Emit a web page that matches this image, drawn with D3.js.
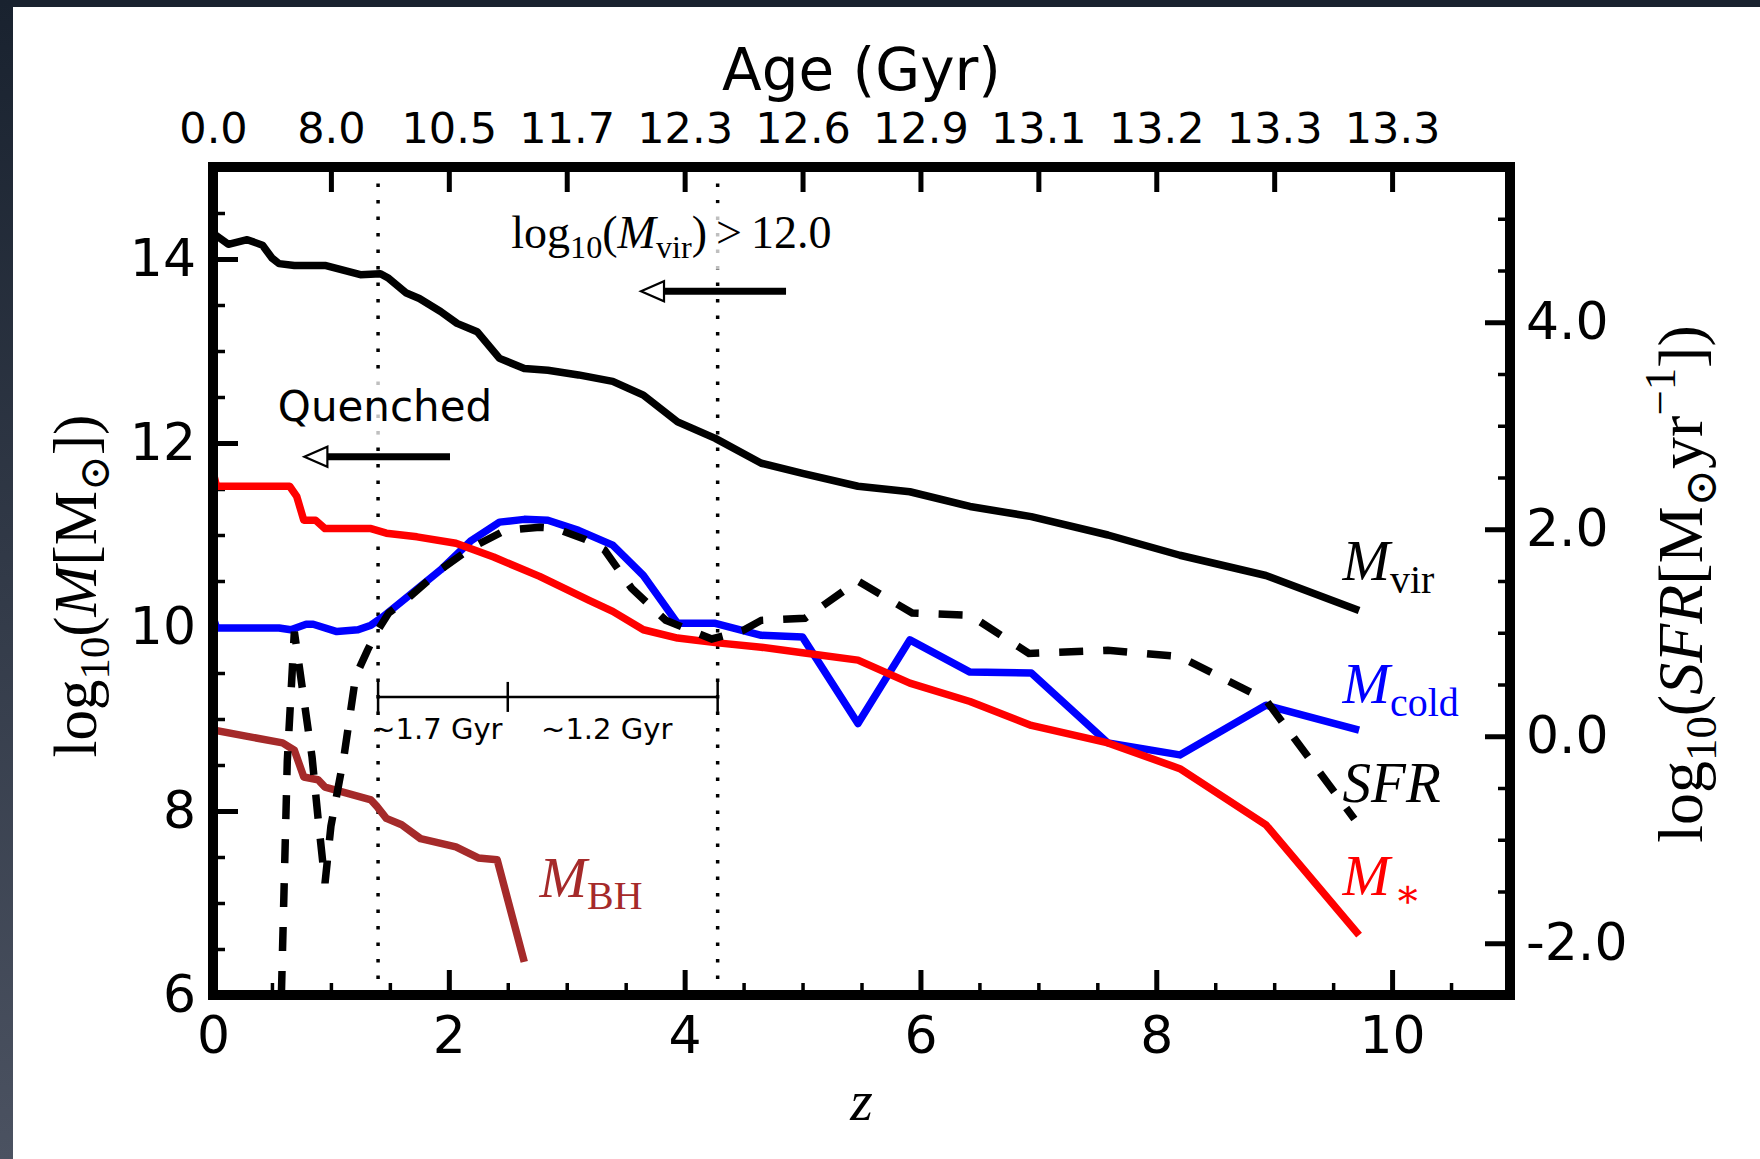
<!DOCTYPE html>
<html>
<head>
<meta charset="utf-8">
<script src="https://cdn.jsdelivr.net/npm/d3@7"></script>
<style>
  html, body { margin: 0; padding: 0; background: #fff; }
  svg { display: block; }
</style>
</head>
<body>
<div id="chart"></div>
<script>
// ---- data ----
const zMajor = [0, 2, 4, 6, 8, 10];
const ageTicks = [0, 1, 2, 3, 4, 5, 6, 7, 8, 9, 10];
const ageLabels = ["0.0", "8.0", "10.5", "11.7", "12.3", "12.6", "12.9", "13.1", "13.2", "13.3", "13.3"];
const massTicks = [6, 8, 10, 12, 14];
const sfrTicks = [-2, 0, 2, 4];

// [z, log10 value]
const mvir = [[0.00,14.28],[0.13,14.16],[0.29,14.21],[0.42,14.15],[0.50,14.01],[0.56,13.95],[0.69,13.93],[0.95,13.93],[1.25,13.83],[1.42,13.84],[1.49,13.79],[1.64,13.63],[1.75,13.57],[1.93,13.43],[2.07,13.30],[2.24,13.21],[2.43,12.92],[2.64,12.81],[2.84,12.79],[3.10,12.74],[3.39,12.67],[3.65,12.52],[3.94,12.23],[4.26,12.05],[4.65,11.78],[5.00,11.67],[5.47,11.53],[5.91,11.47],[6.42,11.31],[6.94,11.20],[7.59,11.00],[8.20,10.78],[8.93,10.56],[9.72,10.18]];
const mstar = [[0.00,11.69],[0.03,11.53],[0.65,11.53],[0.71,11.42],[0.77,11.16],[0.87,11.16],[0.95,11.07],[1.34,11.07],[1.47,11.02],[1.73,10.98],[2.06,10.91],[2.38,10.76],[2.77,10.55],[3.19,10.29],[3.39,10.17],[3.65,9.97],[3.94,9.88],[4.26,9.83],[4.65,9.78],[5.00,9.72],[5.47,9.64],[5.91,9.39],[6.42,9.19],[6.94,8.93],[7.59,8.74],[8.20,8.46],[8.93,7.85],[9.72,6.65]];
const mcold = [[0.00,10.11],[0.03,9.99],[0.56,9.99],[0.66,9.97],[0.79,10.03],[0.85,10.03],[1.05,9.95],[1.23,9.97],[1.34,10.02],[1.44,10.11],[1.67,10.35],[1.93,10.62],[2.19,10.94],[2.43,11.14],[2.64,11.17],[2.84,11.16],[3.10,11.05],[3.39,10.89],[3.65,10.56],[3.94,10.04],[4.26,10.04],[4.65,9.91],[5.00,9.89],[5.47,8.95],[5.91,9.86],[6.42,9.51],[6.94,9.50],[7.59,8.74],[8.20,8.61],[8.93,9.15],[9.72,8.88]];
const mbh = [[0.00,8.88],[0.59,8.74],[0.69,8.66],[0.77,8.37],[0.89,8.34],[0.95,8.26],[1.34,8.12],[1.39,8.05],[1.47,7.92],[1.60,7.85],[1.76,7.70],[2.06,7.61],[2.25,7.49],[2.41,7.47],[2.64,6.36]];
// right axis: log10 SFR
const sfr = [[0.58,-2.5],[0.63,-0.24],[0.69,1.01],[0.84,-0.20],[0.89,-0.78],[0.95,-1.42],[1.00,-0.87],[1.11,-0.20],[1.21,0.58],[1.31,0.83],[1.39,1.01],[1.49,1.19],[1.67,1.35],[1.93,1.61],[2.19,1.82],[2.48,1.99],[2.77,2.02],[2.90,2.01],[3.16,1.90],[3.32,1.80],[3.55,1.43],[3.84,1.12],[4.23,0.94],[4.49,1.02],[4.65,1.12],[5.02,1.14],[5.47,1.50],[5.93,1.19],[6.42,1.17],[6.92,0.80],[7.59,0.83],[8.20,0.77],[8.93,0.35],[9.68,-0.80]];

const markerZ = [1.40, 4.28];           // dotted lines
const bracketZ = [1.40, 2.50, 4.28];    // time bracket
const bracketLevel = 9.24;
const bracketLabels = ["~1.7 Gyr", "~1.2 Gyr"];

// ---- layout ----
const W = 1760, H = 1159;
const L = 213, R = 1510, T = 167, B = 995;
const serif = "'Liberation Serif', 'DejaVu Serif', serif";
const sans = "'DejaVu Sans', sans-serif";

const svg = d3.select("#chart").append("svg")
  .attr("width", W).attr("height", H);

// page border like the screenshot
const grad = svg.append("defs").append("linearGradient")
  .attr("id", "edge").attr("x1", 0).attr("y1", 0).attr("x2", 0).attr("y2", 1);
grad.append("stop").attr("offset", "0%").attr("stop-color", "#19222f");
grad.append("stop").attr("offset", "100%").attr("stop-color", "#4b5261");
svg.append("rect").attr("width", W).attr("height", H).attr("fill", "#fff");
svg.append("rect").attr("width", W).attr("height", 7).attr("fill", "#19222f");
svg.append("rect").attr("width", 13).attr("height", H).attr("fill", "url(#edge)");

svg.select("defs").append("clipPath").attr("id", "plot")
  .append("rect").attr("x", L).attr("y", T).attr("width", R - L).attr("height", B - T);

const x = d3.scaleLinear().domain([0, 11]).range([L, R]);
const yL = d3.scaleLinear().domain([6, 15]).range([B, T]);
const yR = d3.scaleLinear().domain([-2.5, 5.5]).range([B, T]);

function styleAxis(g, size, width) {
  g.select(".domain").remove();
  g.attr("font-family", sans).attr("font-size", size);
  g.selectAll(".tick line").attr("stroke", "#000").attr("stroke-width", width);
  g.selectAll(".tick text").attr("fill", "#000");
}

const minor = (lo, hi, skip) => d3.range(lo, hi + 0.001, 0.5).filter(v => !skip.includes(v));

// bottom
svg.append("g").attr("transform", `translate(0,${B})`)
  .call(d3.axisBottom(x).tickValues(minor(0, 11, zMajor)).tickSize(-12).tickFormat(""))
  .call(g => styleAxis(g, 52, 3.5));
svg.append("g").attr("transform", `translate(0,${B})`)
  .call(d3.axisBottom(x).tickValues(zMajor).tickSize(-25).tickPadding(21).tickFormat(d3.format("d")))
  .call(g => styleAxis(g, 52, 5));

// top (age)
svg.append("g").attr("transform", `translate(0,${T})`)
  .call(d3.axisTop(x).tickValues(ageTicks).tickSize(-25).tickPadding(24).tickFormat((d, i) => ageLabels[i]))
  .call(g => styleAxis(g, 43, 5));

// left
svg.append("g").attr("transform", `translate(${L},0)`)
  .call(d3.axisLeft(yL).tickValues(minor(6, 15, massTicks)).tickSize(-12).tickFormat(""))
  .call(g => styleAxis(g, 52, 3.5));
svg.append("g").attr("transform", `translate(${L},0)`)
  .call(d3.axisLeft(yL).tickValues(massTicks).tickSize(-25).tickPadding(17).tickFormat(d3.format("d")))
  .call(g => styleAxis(g, 52, 5));

// right
svg.append("g").attr("transform", `translate(${R},0)`)
  .call(d3.axisRight(yR).tickValues(minor(-2.5, 5.5, sfrTicks)).tickSize(-12).tickFormat(""))
  .call(g => styleAxis(g, 52, 3.5));
svg.append("g").attr("transform", `translate(${R},0)`)
  .call(d3.axisRight(yR).tickValues(sfrTicks).tickSize(-25).tickPadding(16).tickFormat(d => d.toFixed(1)))
  .call(g => styleAxis(g, 52, 5));

// math-ish text with sub/superscripts
function mathText(parent, px, py, parts, size, color, anchor) {
  const t = parent.append("text").attr("x", px).attr("y", py)
    .attr("font-family", serif).attr("font-size", size)
    .attr("fill", color).attr("text-anchor", anchor || "start");
  let shift = 0;
  parts.forEach(p => {
    const scale = (p.sub || p.sup) ? 0.7 : 1;
    const target = p.sub ? 0.22 * size : p.sup ? -0.42 * size : 0;
    t.append("tspan")
      .attr("font-size", size * scale)
      .attr("font-style", p.it ? "italic" : "normal")
      .attr("dy", target - shift)
      .attr("dx", p.dx || 0)
      .text(p.t);
    shift = target;
  });
  return t;
}

function backdrop(t, pad) {
  const b = t.node().getBBox();
  t.node().parentNode.insertBefore(
    svg.append("rect").attr("x", b.x - pad).attr("y", b.y - pad)
      .attr("width", b.width + 2 * pad).attr("height", b.height + 2 * pad)
      .attr("fill", "#fff").attr("opacity", 0.75).node(),
    t.node());
}

const plot = svg.append("g").attr("clip-path", "url(#plot)");

// dotted markers
plot.selectAll(".marker").data(markerZ).join("line")
  .attr("x1", d => x(d)).attr("x2", d => x(d))
  .attr("y1", yL(15)).attr("y2", yL(6))
  .attr("stroke", "#000").attr("stroke-width", 3.5).attr("stroke-dasharray", "3.5,13");

// annotation texts (with translucent box) and arrows
const ann = svg.append("g");
const quench = ann.append("text").attr("x", x(0.55)).attr("y", yL(12.24))
  .attr("font-family", sans).attr("font-size", 42).attr("fill", "#000").text("Quenched");
backdrop(quench, 4);

const thresh = mathText(ann, x(2.53), yL(14.12), [
  { t: "log" }, { t: "10", sub: true }, { t: "(" }, { t: "M", it: true },
  { t: "vir", sub: true }, { t: ")" }, { t: ">", dx: 9 }, { t: "12.0", dx: 9 }
], 46, "#000");
backdrop(thresh, 4);

function arrow(z0, z1, lv) {
  const y = yL(lv), tip = x(z1), base = tip + 23;
  ann.append("line").attr("x1", x(z0)).attr("x2", base).attr("y1", y).attr("y2", y)
    .attr("stroke", "#000").attr("stroke-width", 7);
  ann.append("path")
    .attr("d", `M${tip},${y}L${base},${y - 10}L${base},${y + 10}Z`)
    .attr("fill", "#fff").attr("stroke", "#000").attr("stroke-width", 2.2);
}
arrow(2.01, 0.775, 11.85);
arrow(4.86, 3.63, 13.65);

// time bracket
const by = yL(bracketLevel);
ann.append("line").attr("x1", x(bracketZ[0])).attr("x2", x(bracketZ[2]))
  .attr("y1", by).attr("y2", by).attr("stroke", "#000").attr("stroke-width", 2.5);
ann.selectAll(".btick").data(bracketZ).join("line")
  .attr("x1", d => x(d)).attr("x2", d => x(d))
  .attr("y1", by - 15).attr("y2", by + 15)
  .attr("stroke", "#000").attr("stroke-width", 2.5);
ann.selectAll(".blabel").data(bracketLabels).join("text")
  .attr("x", (d, i) => (x(bracketZ[i]) + x(bracketZ[i + 1])) / 2 - 6)
  .attr("y", by + 42)
  .attr("text-anchor", "middle")
  .attr("font-family", sans).attr("font-size", 29).attr("fill", "#000")
  .text(d => d);

// series
const lineL = d3.line().x(d => x(d[0])).y(d => yL(d[1]));
const lineR = d3.line().x(d => x(d[0])).y(d => yR(d[1]));

const series = [
  { data: mvir, color: "#000" },
  { data: mcold, color: "#0000ff" },
  { data: mstar, color: "#ff0000" },
  { data: mbh, color: "#a52a2a" }
];
plot.selectAll(".series").data(series).join("path")
  .attr("d", d => lineL(d.data))
  .attr("fill", "none").attr("stroke", d => d.color)
  .attr("stroke-width", 7.5).attr("stroke-linejoin", "round");

plot.append("path").attr("d", lineR(sfr))
  .attr("fill", "none").attr("stroke", "#000")
  .attr("stroke-width", 7.5).attr("stroke-dasharray", "24,20");

// frame
svg.append("rect").attr("x", L).attr("y", T).attr("width", R - L).attr("height", B - T)
  .attr("fill", "none").attr("stroke", "#000").attr("stroke-width", 10);

// series labels
mathText(svg, x(9.58), yL(10.51), [{ t: "M", it: true }, { t: "vir", sub: true }], 57, "#000");
mathText(svg, x(9.58), yL(9.17), [{ t: "M", it: true }, { t: "cold", sub: true }], 57, "#0000ff");
mathText(svg, x(9.58), yL(8.10), [{ t: "SFR", it: true }], 57, "#000");
mathText(svg, x(9.58), yL(7.09), [{ t: "M", it: true }, { t: "\u2217", sub: true, dx: 4 }], 57, "#ff0000");
mathText(svg, x(2.77), yL(7.07), [{ t: "M", it: true }, { t: "BH", sub: true }], 57, "#a52a2a");

// axis titles
svg.append("text").attr("x", (L + R) / 2).attr("y", 90)
  .attr("text-anchor", "middle").attr("font-family", sans).attr("font-size", 58)
  .attr("fill", "#000").text("Age (Gyr)");

mathText(svg, (L + R) / 2, 1120, [{ t: "z", it: true }], 58, "#000", "middle");

const leftTitle = svg.append("g").attr("transform", `translate(96,${(T + B) / 2 + 5}) rotate(-90)`);
mathText(leftTitle, 0, 0, [
  { t: "log" }, { t: "10", sub: true }, { t: "(" }, { t: "M", it: true },
  { t: "[M" }, { t: "\u2299", sub: true }, { t: "])" }
], 61, "#000", "middle");

const rightTitle = svg.append("g").attr("transform", `translate(1702,${(T + B) / 2 + 3}) rotate(-90)`);
mathText(rightTitle, 0, 0, [
  { t: "log" }, { t: "10", sub: true }, { t: "(" }, { t: "SFR", it: true },
  { t: "[M" }, { t: "\u2299", sub: true }, { t: "yr" }, { t: "\u22121", sup: true }, { t: "])" }
], 64, "#000", "middle");
</script>
</body>
</html>
